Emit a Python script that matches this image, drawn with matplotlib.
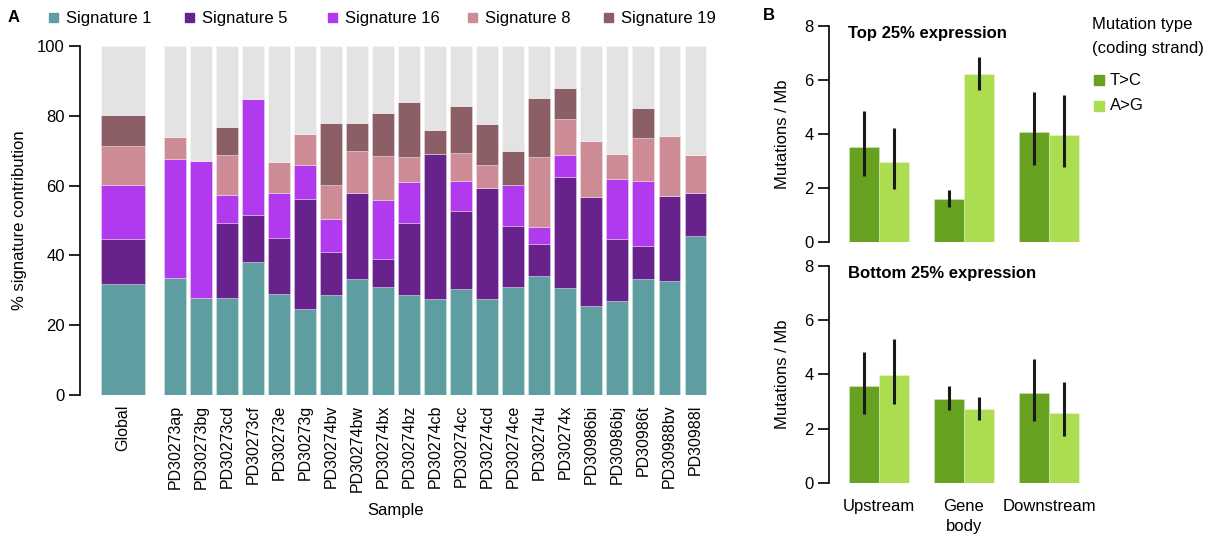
import matplotlib
matplotlib.use("Agg")
import matplotlib.pyplot as plt
from matplotlib.patches import Rectangle
import numpy as np

plt.rcParams['font.family'] = ['Liberation Sans', 'DejaVu Sans']

# ---------------- Panel A data ----------------
samples = ["Global", "PD30273ap", "PD30273bg", "PD30273cd", "PD30273cf", "PD30273e",
           "PD30273g", "PD30274bv", "PD30274bw", "PD30274bx", "PD30274bz", "PD30274cb",
           "PD30274cc", "PD30274cd", "PD30274ce", "PD30274u", "PD30274x", "PD30986bi",
           "PD30986bj", "PD30986t", "PD30988bv", "PD30988l"]
signatures = ["Signature 1", "Signature 5", "Signature 16", "Signature 8", "Signature 19"]
sig_colors = ["#5f9ea0", "#68228b", "#b23aee", "#cd8c95", "#8b5f65"]
rest_color = "#e3e3e3"

sig1 = [31.7, 33.5, 27.9, 27.7, 38.2, 28.9, 24.7, 28.7, 33.2, 30.9, 28.6,
        27.4, 30.3, 27.6, 30.9, 34.0, 30.8, 25.5, 27.0, 33.2, 32.8, 45.7]
sig5 = [13.0, 0.0, 0.0, 21.5, 13.5, 16.1, 31.5, 12.3, 24.8, 8.1, 20.6,
        41.6, 22.5, 31.7, 17.5, 9.2, 31.8, 31.3, 17.7, 9.6, 24.3, 12.2]
sig16 = [15.5, 34.2, 39.2, 8.0, 33.1, 13.0, 9.8, 9.5, 0.0, 16.8, 11.8,
         0.0, 8.5, 0.0, 11.8, 5.0, 6.1, 0.0, 17.1, 18.5, 0.0, 0.0]
sig8 = [11.2, 6.2, 0.0, 11.5, 0.0, 8.9, 8.8, 9.6, 12.0, 12.7, 7.3,
        0.0, 8.0, 6.5, 0.0, 20.1, 10.3, 15.9, 7.3, 12.4, 17.1, 10.9]
sig19 = [8.7, 0.0, 0.0, 8.1, 0.0, 0.0, 0.0, 17.8, 7.8, 12.3, 15.7,
         6.8, 13.5, 11.8, 9.8, 16.9, 8.9, 0.0, 0.0, 8.6, 0.0, 0.0]

# ---------------- Panel B data ----------------
regions = ["Upstream", "Gene\nbody", "Downstream"]
mut_types = ["T>C", "A>G"]
mut_colors = ["#66a11f", "#acdc50"]
top_tc = [3.50, 1.60, 4.07]
top_tc_lo = [2.42, 1.30, 2.86]
top_tc_hi = [4.84, 1.92, 5.56]
top_ag = [2.95, 6.23, 3.94]
top_ag_lo = [1.97, 5.64, 2.76]
top_ag_hi = [4.22, 6.85, 5.43]
bot_tc = [3.57, 3.10, 3.30]
bot_tc_lo = [2.55, 2.68, 2.29]
bot_tc_hi = [4.84, 3.57, 4.57]
bot_ag = [3.96, 2.72, 2.58]
bot_ag_lo = [2.89, 2.33, 1.71]
bot_ag_hi = [5.29, 3.18, 3.72]

W, H = 1219, 537
fig = plt.figure(figsize=(W / 100, H / 100), dpi=100)

def ax_at(x0, y0, x1, y1):
    # pixel coordinates, y from top
    return fig.add_axes([x0 / W, 1 - y1 / H, (x1 - x0) / W, (y1 - y0) / H])

# ---------------- Panel A ----------------
axA = ax_at(80, 46, 711, 395)
x_pos = np.array([-2.0] + list(range(len(samples) - 1)), dtype=float)
widths = np.array([1.70] + [0.835] * (len(samples) - 1))
series = [sig1, sig5, sig16, sig8, sig19]
bottom = np.zeros(len(samples))
for vals, col in zip(series, sig_colors):
    v = np.array(vals)
    axA.bar(x_pos, v, width=widths, bottom=bottom, color=col,
            edgecolor=(1, 1, 1, 0.35), linewidth=0.6)
    bottom += v
axA.bar(x_pos, 100 - bottom, width=widths, bottom=bottom, color=rest_color,
        edgecolor=(1, 1, 1, 0.35), linewidth=0.6)
axA.set_xlim(-3.65, 20.6)
axA.set_ylim(0, 100)
for s in ["top", "right", "bottom"]:
    axA.spines[s].set_visible(False)
axA.spines["left"].set_linewidth(1.2)
axA.set_yticks([0, 20, 40, 60, 80, 100])
axA.tick_params(axis="y", direction="out", length=8, width=1.2, labelsize=12, pad=3)
axA.set_xticks(x_pos)
axA.set_xticklabels(samples, rotation=90, fontsize=11.5)
axA.tick_params(axis="x", length=0, pad=7)
axA.set_ylabel("% signature contribution", fontsize=12, labelpad=7)
axA.set_xlabel("Sample", fontsize=12, labelpad=8)

# legend A
leg_sq_x = [49, 185, 328, 468, 604]
for lab, col, xs in zip(signatures, sig_colors, leg_sq_x):
    fig.patches.append(Rectangle((xs / W, 1 - 22 / H), 9 / W, 9 / H,
                                 transform=fig.transFigure, color=col))
    fig.text((xs + 17) / W, 1 - 18 / H, lab, fontsize=12, va="center", ha="left")

fig.text(8 / W, 1 - 17 / H, "A", fontsize=12, fontweight="bold", va="center")
fig.text(763 / W, 1 - 15 / H, "B", fontsize=12, fontweight="bold", va="center")

# ---------------- Panel B ----------------
grp_pitch = 85.0
bw = 29.6 / grp_pitch
xg = np.arange(len(regions), dtype=float)
xlim_l = (829 - 879) / grp_pitch
xlim_r = (1090 - 879) / grp_pitch

def panel(y0, y1, tc, tc_lo, tc_hi, ag, ag_lo, ag_hi, title, show_x):
    ax = ax_at(829, y0, 1090, y1)
    ax.bar(xg - bw / 2, tc, width=bw, color=mut_colors[0],
           edgecolor=(1, 1, 1, 0.3), linewidth=0.6)
    ax.bar(xg + bw / 2, ag, width=bw, color=mut_colors[1],
           edgecolor=(1, 1, 1, 0.3), linewidth=0.6)
    ax.vlines(xg - bw / 2, tc_lo, tc_hi, color="#1a1a1a", linewidth=2.2)
    ax.vlines(xg + bw / 2, ag_lo, ag_hi, color="#1a1a1a", linewidth=2.2)
    ax.set_xlim(xlim_l, xlim_r)
    ax.set_ylim(0, 8)
    for s in ["top", "right", "bottom"]:
        ax.spines[s].set_visible(False)
    ax.spines["left"].set_linewidth(1.2)
    ax.set_yticks([0, 2, 4, 6, 8])
    ax.tick_params(axis="y", direction="out", length=8, width=1.2, labelsize=12, pad=3)
    ax.set_ylabel("Mutations / Mb", fontsize=12, labelpad=10)
    ax.set_xticks(xg)
    if show_x:
        ax.set_xticklabels(regions, fontsize=12, linespacing=1.4)
    else:
        ax.set_xticklabels([])
    ax.tick_params(axis="x", length=0, pad=12)
    ax.text((848 - 829) / 261, 1.0, title, transform=ax.transAxes, fontsize=12,
            fontweight="bold", va="top", ha="left")
    return ax

panel(26, 241.7, top_tc, top_tc_lo, top_tc_hi, top_ag, top_ag_lo, top_ag_hi,
      "Top 25% expression", False)
panel(266, 482.7, bot_tc, bot_tc_lo, bot_tc_hi, bot_ag, bot_ag_lo, bot_ag_hi,
      "Bottom 25% expression", True)

# legend B
fig.text(1092 / W, 1 - 36 / H, "Mutation type\n(coding strand)", fontsize=12,
         va="center", ha="left", linespacing=1.75)
for i, (lab, col) in enumerate(zip(mut_types, mut_colors)):
    yc = 80 + 26 * i
    fig.patches.append(Rectangle((1094 / W, 1 - (yc + 5) / H), 10 / W, 10 / H,
                                 transform=fig.transFigure, color=col))
    fig.text(1110 / W, 1 - yc / H, lab, fontsize=12, va="center", ha="left")

fig.savefig("out.png", dpi=100)
